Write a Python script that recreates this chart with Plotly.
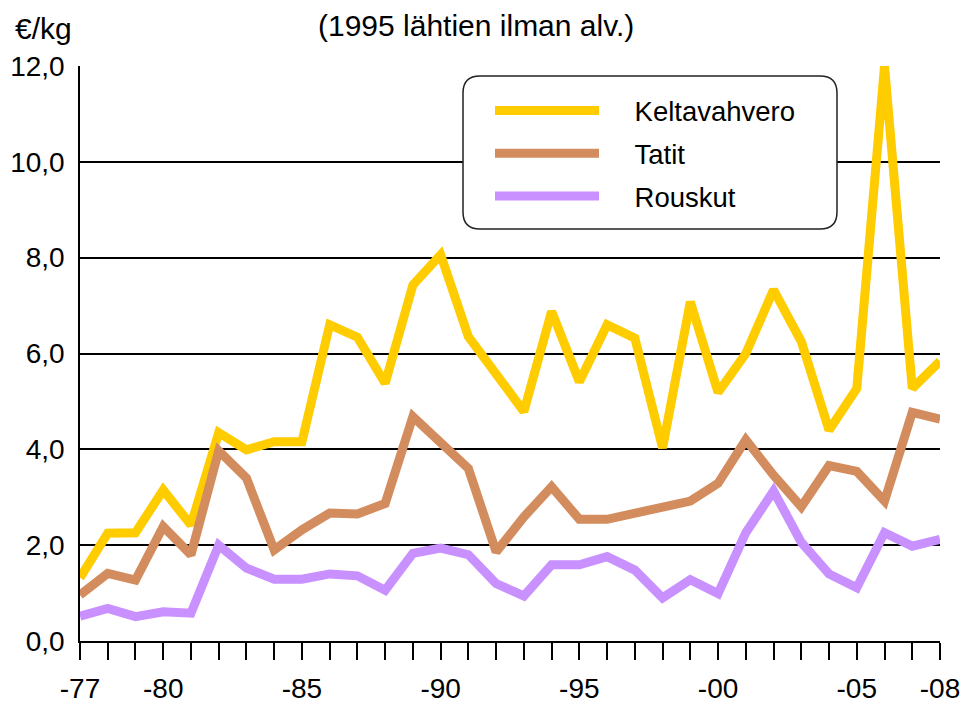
import plotly.graph_objects as go

years = list(range(1977, 2009))
keltavahvero = [1.32, 2.25, 2.26, 3.15, 2.42, 4.35, 3.99, 4.16, 4.16, 6.60, 6.34, 5.38, 7.43, 8.06,
                6.35, 5.59, 4.79, 6.88, 5.41, 6.60, 6.32, 4.03, 7.08, 5.19, 6.00, 7.33, 6.25, 4.40,
                5.27, 12.0, 5.27, 5.84]
tatit = [0.96, 1.41, 1.27, 2.39, 1.80, 3.97, 3.40, 1.90, 2.32, 2.67, 2.65, 2.87, 4.68, 4.16,
         3.60, 1.86, 2.59, 3.22, 2.54, 2.54, 2.68, 2.80, 2.92, 3.29, 4.20, 3.46, 2.80, 3.66,
         3.54, 2.92, 4.77, 4.63]
rouskut = [0.52, 0.68, 0.51, 0.61, 0.58, 2.00, 1.52, 1.29, 1.29, 1.40, 1.36, 1.06, 1.83, 1.94,
           1.80, 1.20, 0.94, 1.59, 1.59, 1.76, 1.48, 0.90, 1.28, 0.99, 2.26, 3.13, 2.06, 1.40,
           1.11, 2.26, 1.98, 2.12]
labeled = {1977: "-77", 1980: "-80", 1985: "-85", 1990: "-90", 1995: "-95",
           2000: "-00", 2005: "-05", 2008: "-08"}
tick_text = [labeled.get(y, "") for y in years]

series = [("Keltavahvero", keltavahvero, "#FFCC00"),
          ("Tatit", tatit, "#D38C5E"),
          ("Rouskut", rouskut, "#C990FF")]

FONT = "Liberation Sans, Arial, sans-serif"
W, H = 967, 705
L, R, T, B = 80, 940, 66, 641

fig = go.Figure()
for name, vals, col in series:
    fig.add_trace(go.Scatter(x=years, y=vals, name="\u00a0" * 4 + name, mode="lines",
                             legendgroup=name, hoverinfo="skip",
                             line=dict(color=col, width=9)))

def px2paper(x, y):
    return (x - L) / (R - L), (B - y) / (B - T)

# rounded legend box
x0, x1, y0, y1, r = 463, 837, 76, 229, 17
def P(x, y):
    a, b = px2paper(x, y)
    return f"{a:.5f},{b:.5f}"
path = (f"M{P(x0 + r, y0)} L{P(x1 - r, y0)} Q{P(x1, y0)} {P(x1, y0 + r)} "
        f"L{P(x1, y1 - r)} Q{P(x1, y1)} {P(x1 - r, y1)} "
        f"L{P(x0 + r, y1)} Q{P(x0, y1)} {P(x0, y1 - r)} "
        f"L{P(x0, y0 + r)} Q{P(x0, y0)} {P(x0 + r, y0)} Z")
fig.add_shape(type="path", path=path, xref="paper", yref="paper",
              line=dict(color="#222222", width=1.5), fillcolor="white", layer="above")

lx, ly = px2paper(490, 86)
fig.update_layout(
    width=W, height=H,
    margin=dict(l=L, r=W - R, t=T, b=H - B, autoexpand=False),
    paper_bgcolor="white", plot_bgcolor="white",
    separators=", ",
    font=dict(family=FONT, size=28, color="black"),
    showlegend=True,
    legend=dict(x=lx, y=ly, xanchor="left", yanchor="top", bgcolor="rgba(0,0,0,0)",
                borderwidth=0, itemwidth=104, font=dict(size=27.5), tracegroupgap=4,
                traceorder="grouped"),
    xaxis=dict(range=[1977, 2008], tickvals=years, ticktext=tick_text, ticks="outside",
               ticklen=17, tickwidth=1.5, tickcolor="black", showline=True, linecolor="black",
               linewidth=1.5, showgrid=False, zeroline=False, tickangle=0,
               ticklabelstandoff=5, automargin=False),
    yaxis=dict(range=[0, 12], dtick=2, tick0=0, tickformat=".1f", showgrid=True,
               gridcolor="black", gridwidth=1.5, showline=True, linecolor="black",
               linewidth=1.5, zeroline=False, ticks="", ticklabelstandoff=8,
               automargin=False),
)

def ann(text, px_x, px_y, size):
    xp, yp = px2paper(px_x, px_y)
    fig.add_annotation(text=text, x=xp, y=yp, xref="paper", yref="paper", showarrow=False,
                       xanchor="center", yanchor="middle", font=dict(size=size))

ann("(1995 lähtien ilman alv.)", 476, 25, 30)
ann("€/kg", 43, 29, 30)

fig.write_html("out.html", config={"displayModeBar": False},
               post_script="document.body.style.margin='0';document.body.style.overflow='hidden';")
